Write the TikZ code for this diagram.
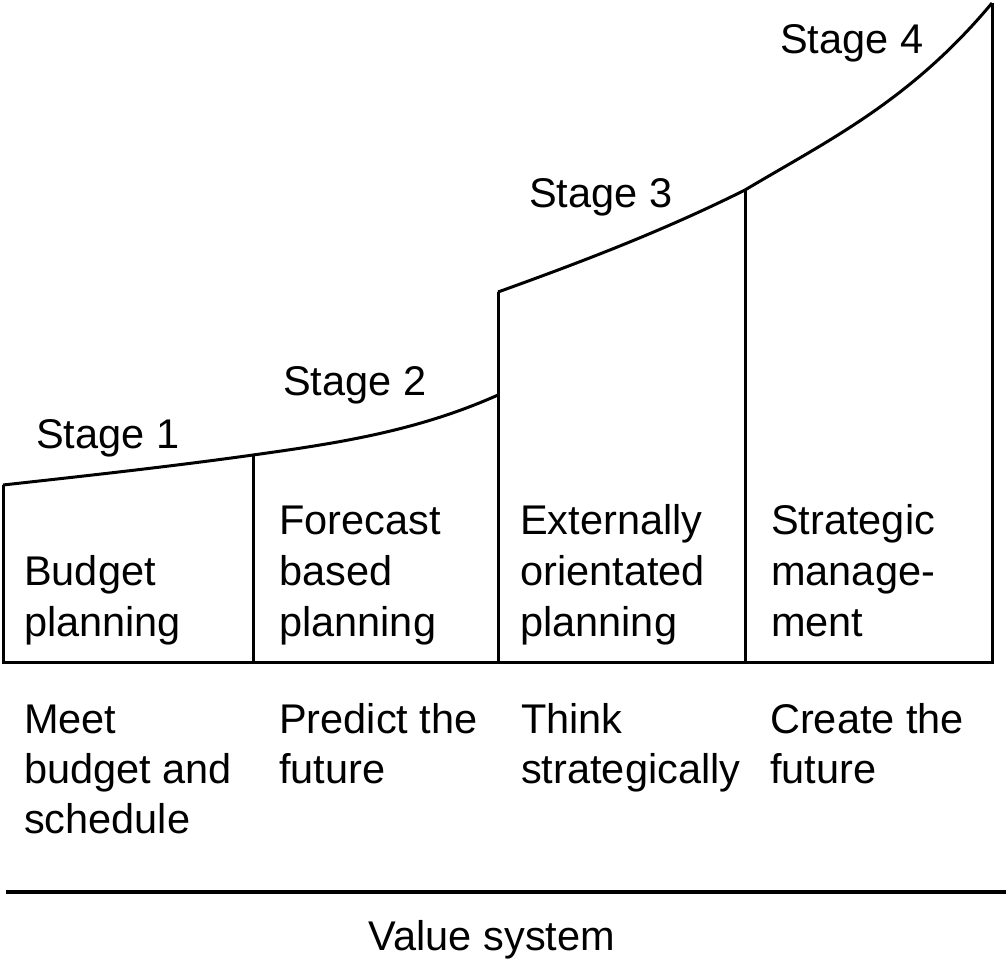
\documentclass[tikz,border=0pt]{standalone}
\usepackage{fontspec}
\setmainfont{Liberation Sans}
\begin{document}
\begin{tikzpicture}[x=1pt,y=-1pt,
  edge/.style={line width=3pt, line join=miter, line cap=butt},
  lbl/.style={anchor=base west, inner sep=0pt, font=\fontsize{41.5}{50}\selectfont},
  clbl/.style={anchor=base, inner sep=0pt, font=\fontsize{41.5}{50}\selectfont},
]
\useasboundingbox (0,0) rectangle (1008,961);
% corner coordinates
\coordinate (tl) at (3,485);
\coordinate (bl) at (3,662);
\coordinate (br) at (992,662);
\coordinate (tr) at (992,3);
\coordinate (d1t) at (253,455);
\coordinate (d1b) at (253,662);
\coordinate (d2l) at (498,395);
\coordinate (d2t) at (498,292);
\coordinate (d2b) at (498,662);
\coordinate (d3t) at (745,190);
\coordinate (d3b) at (745,662);
\coordinate (vl) at (6,892);
\coordinate (vr) at (1006,892);
% outline
\draw[edge] (tl) -- (bl) -- (br) -- (tr);
\draw[edge] (tl) .. controls (86,475.8) and (170,466.6) .. (d1t)
                 .. controls (335,443.5) and (416,431.7) .. (d2l);
\draw[edge] (d2t) .. controls (580,262.5) and (663,231) .. (d3t)
                  .. controls (827,141) and (910,101.4) .. (tr);
\draw[edge] (d1t) -- (d1b);
\draw[edge] (d2t) -- (d2b);
\draw[edge] (d3t) -- (d3b);
\draw[line width=4pt] (vl) -- (vr);
% stage labels
\node[lbl] (s1) at (36,448) {Stage 1};
\node[lbl] (s2) at (283,395) {Stage 2};
\node[lbl] (s3) at (529,207) {Stage 3};
\node[lbl] (s4) at (780,53) {Stage 4};
% box texts
\node[lbl] (a1) at (24,585) {Budget};
\node[lbl] (a2) at (24,636) {planning};
\node[lbl] (b1) at (279,534) {Forecast};
\node[lbl] (b2) at (279,585) {based};
\node[lbl] (b3) at (279,636) {planning};
\node[lbl] (c1) at (520,534) {Externally};
\node[lbl] (c2) at (520,585) {orientated};
\node[lbl] (c3) at (520,636) {planning};
\node[lbl] (e1) at (771,534) {Strategic};
\node[lbl] (e2) at (771,585) {manage-};
\node[lbl] (e3) at (771,636) {ment};
% lower texts
\node[lbl] (m1) at (24,733) {Meet};
\node[lbl] (m2) at (24,783) {budget and};
\node[lbl] (m3) at (24,833) {schedule};
\node[lbl] (p1) at (279,733) {Predict the};
\node[lbl] (p2) at (279,783) {future};
\node[lbl] (t1) at (521,733) {Think};
\node[lbl] (t2) at (521,783) {strategically};
\node[lbl] (r1) at (770,733) {Create the};
\node[lbl] (r2) at (770,783) {future};
% value system
\node[clbl] (vs) at (492,950) {Value system};
\end{tikzpicture}
\end{document}
